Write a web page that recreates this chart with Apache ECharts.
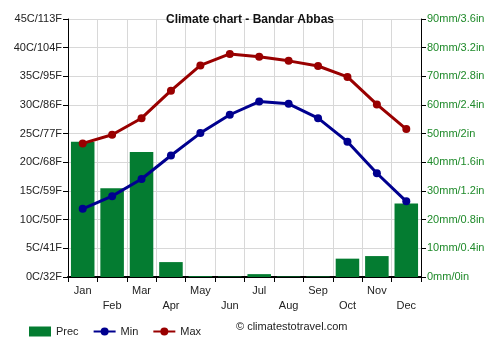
<!DOCTYPE html>
<html>
<head>
<meta charset="utf-8">
<script src="https://cdn.jsdelivr.net/npm/echarts@6/dist/echarts.min.js"></script>
<style>html,body{margin:0;padding:0;background:#fff}#c{width:500px;height:350px}</style>
</head>
<body>
<div id="c"></div>
<script>
const months = ['Jan','Feb','Mar','Apr','May','Jun','Jul','Aug','Sep','Oct','Nov','Dec'];
const prec = [47.2, 31.0, 43.6, 5.2, 0.3, 0.2, 1.0, 0.2, 0.2, 6.4, 7.3, 25.6];
const tMin = [11.9, 14.1, 17.1, 21.2, 25.1, 28.3, 30.6, 30.2, 27.7, 23.6, 18.1, 13.2];
const tMax = [23.3, 24.8, 27.7, 32.5, 36.9, 38.9, 38.4, 37.7, 36.8, 34.9, 30.1, 25.8];
const tempTicks = ['0C/32F','5C/41F','10C/50F','15C/59F','20C/68F','25C/77F','30C/86F','35C/95F','40C/104F','45C/113F'];
const precTicks = ['0mm/0in','10mm/0.4in','20mm/0.8in','30mm/1.2in','40mm/1.6in','50mm/2in','60mm/2.4in','70mm/2.8in','80mm/3.2in','90mm/3.6in'];

const font = 'Arial, "Liberation Sans", sans-serif';
const chart = echarts.init(document.getElementById('c'), null, {renderer:'canvas'});
chart.setOption({
  animation: false,
  textStyle: {fontFamily: font},
  title: {
    text: 'Climate chart - Bandar Abbas',
    left: 'center', top: 9,
    textStyle: {fontFamily: font, fontSize: 12, fontWeight: 'bold', color: '#111'}
  },
  grid: {left: 68, right: 79, top: 19, bottom: 73},
  legend: {
    left: 24, top: 321, itemGap: 14, itemWidth: 22, itemHeight: 10,
    textStyle: {fontFamily: font, fontSize: 11, color: '#222'},
    data: [
      {name: 'Prec', icon: 'rect'},
      {name: 'Min'},
      {name: 'Max'}
    ]
  },
  graphic: [{
    type: 'text', left: 236, top: 321,
    style: {text: '© climatestotravel.com', font: '11px ' + font, fill: '#222'}
  }],
  xAxis: {
    type: 'category', data: months, boundaryGap: true,
    axisLine: {lineStyle: {color: '#000', width: 2}},
    axisTick: {show: true, length: 5, lineStyle: {color: '#000'}},
    splitLine: {show: true, lineStyle: {color: '#d8d8d8'}},
    axisLabel: {
      interval: 0, fontSize: 11, color: '#222', margin: 6, lineHeight: 15,
      formatter: (v, i) => (i % 2 === 0 ? v : '\n' + v)
    }
  },
  yAxis: [{
    type: 'value', min: 0, max: 45, interval: 5, position: 'left',
    axisLine: {show: true, lineStyle: {color: '#000'}},
    axisTick: {show: true, length: 5, lineStyle: {color: '#000'}},
    splitLine: {show: true, lineStyle: {color: '#d8d8d8'}},
    axisLabel: {fontSize: 11, color: '#222', margin: 6,
      formatter: (v) => tempTicks[Math.round(v / 5)]}
  }, {
    type: 'value', min: 0, max: 90, interval: 10, position: 'right',
    axisLine: {show: true, lineStyle: {color: '#000'}},
    axisTick: {show: true, length: 5, lineStyle: {color: '#000'}},
    splitLine: {show: false},
    axisLabel: {fontSize: 11, color: '#1f8a2a', margin: 6,
      formatter: (v) => precTicks[Math.round(v / 10)]}
  }],
  series: [{
    name: 'Prec', type: 'bar', yAxisIndex: 1, data: prec,
    barCategoryGap: '20%',
    itemStyle: {color: '#047c31'}, z: 1
  }, {
    name: 'Min', type: 'line', yAxisIndex: 0, data: tMin,
    symbol: 'circle', symbolSize: 8,
    lineStyle: {color: '#00008f', width: 3},
    itemStyle: {color: '#00008f'}, z: 3
  }, {
    name: 'Max', type: 'line', yAxisIndex: 0, data: tMax,
    symbol: 'circle', symbolSize: 8,
    lineStyle: {color: '#990000', width: 3},
    itemStyle: {color: '#990000'}, z: 3
  }]
});
</script>
</body>
</html>
